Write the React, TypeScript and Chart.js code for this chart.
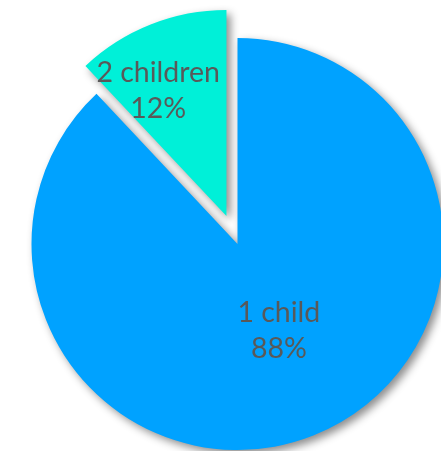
import React, { useEffect, useRef } from "react";
import { Chart, registerables } from "chart.js";

Chart.register(...registerables);

const categories = ["1 child", "2 children"];
const shares = [88, 12];
const sliceColors = ["#00A2FF", "#00F0D8"];
// explode distance of each slice, in pixels
const sliceOffsets = [0, 30];
// label anchor: fraction of radius, fraction along the slice's arc
const labelPlacement = [
  { r: 0.468, a: 0.488 },
  { r: 0.694, a: 0.34 },
];

const explodePlugin = {
  id: "explode",
  afterDatasetUpdate(chart: any, args: any) {
    const meta = chart.getDatasetMeta(args.index);
    const area = chart.chartArea;
    const bx = (area.left + area.right) / 2;
    const by = (area.top + area.bottom) / 2;
    meta.data.forEach((arc: any, i: number) => {
      const mid = (arc.startAngle + arc.endAngle) / 2;
      const off = sliceOffsets[i] || 0;
      arc.x = bx + Math.cos(mid) * off;
      arc.y = by + Math.sin(mid) * off;
    });
  },
};

const shadowPlugin = {
  id: "sliceShadow",
  beforeDatasetsDraw(chart: any) {
    const ctx = chart.ctx;
    ctx.save();
    ctx.shadowColor = "rgba(0,0,0,0.45)";
    ctx.shadowBlur = 8;
    ctx.shadowOffsetX = 4;
    ctx.shadowOffsetY = 4;
  },
  afterDatasetsDraw(chart: any) {
    chart.ctx.restore();
  },
};

const labelPlugin = {
  id: "sliceLabels",
  afterDatasetsDraw(chart: any) {
    const ctx = chart.ctx;
    const meta = chart.getDatasetMeta(0);
    const total = shares.reduce((s, v) => s + v, 0);
    meta.data.forEach((arc: any, i: number) => {
      const p = arc.getProps(["x", "y", "startAngle", "endAngle", "outerRadius"], true);
      const pl = labelPlacement[i];
      const ang = p.startAngle + (p.endAngle - p.startAngle) * pl.a;
      const rr = p.outerRadius * pl.r;
      const x = p.x + Math.cos(ang) * rr;
      const y = p.y + Math.sin(ang) * rr;
      const pct = Math.round((shares[i] / total) * 100) + "%";
      ctx.save();
      ctx.fillStyle = "#595959";
      ctx.font = "28.5px Lato, 'Open Sans', sans-serif";
      ctx.textAlign = "center";
      ctx.textBaseline = "middle";
      ctx.fillText(categories[i], x, y - 18);
      ctx.fillText(pct, x, y + 18);
      ctx.restore();
    });
  },
};

export default function App() {
  const ref = useRef<HTMLCanvasElement | null>(null);
  useEffect(() => {
    if (!ref.current) return;
    const chart = new Chart(ref.current, {
      type: "pie",
      data: {
        labels: categories,
        datasets: [
          {
            data: shares,
            backgroundColor: sliceColors,
            borderWidth: 0,
            radius: 206,
            clip: false,
          } as any,
        ],
      },
      options: {
        animation: false,
        responsive: true,
        maintainAspectRatio: false,
        layout: { padding: { left: 34, right: 0, top: 37, bottom: 0 } },
        plugins: {
          legend: { display: false },
          tooltip: { enabled: false },
          title: { display: false },
        },
      } as any,
      plugins: [explodePlugin, shadowPlugin, labelPlugin],
    });
    return () => chart.destroy();
  }, []);
  return (
    <div
      style={{
        position: "absolute",
        left: 0,
        top: 0,
        width: 441,
        height: 451,
        overflow: "hidden",
        background: "#ffffff",
      }}
    >
      <canvas ref={ref} />
    </div>
  );
}
